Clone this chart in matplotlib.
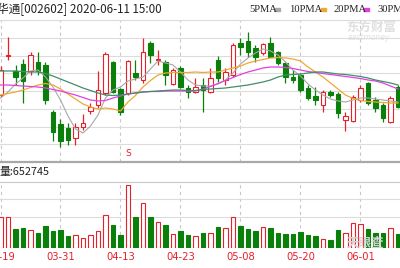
import numpy as np
import matplotlib.pyplot as plt

# trading days shown (last one is cut at the right edge)
dates = ['03-19', '03-20', '03-23', '03-24', '03-25', '03-26', '03-27', '03-30', '03-31', '04-01',
         '04-02', '04-03', '04-07', '04-08', '04-09', '04-10', '04-13', '04-14', '04-15', '04-16',
         '04-17', '04-20', '04-21', '04-22', '04-23', '04-24', '04-27', '04-28', '04-29', '04-30',
         '05-06', '05-07', '05-08', '05-11', '05-12', '05-13', '05-14', '05-15', '05-18', '05-19',
         '05-20', '05-21', '05-22', '05-25', '05-26', '05-27', '05-28', '05-29', '06-01', '06-02',
         '06-03', '06-04', '06-05', '06-08']
tick_dates = ['03-19', '03-31', '04-13', '04-23', '05-08', '05-20', '06-01']

open_ = [8.67, 9.06, 8.91, 8.98, 8.91, 9.00, 8.97, 8.50, 8.38, 8.34,
         8.24, 8.35, 8.51, 8.57, 8.69, 9.00, 8.73, 8.69, 8.89, 8.82,
         9.19, 9.015, 9.00, 8.78, 8.94, 8.74, 8.70, 8.77, 8.70, 9.02,
         8.82, 8.87, 9.19, 9.21, 9.14, 9.09, 9.19, 9.10, 8.99, 8.85,
         8.87, 8.74, 8.66, 8.57, 8.70, 8.68, 8.42, 8.41, 8.62, 8.79,
         8.62, 8.57, 8.40, 8.75]
high = [8.96, 9.25, 8.97, 9.03, 9.10, 9.10, 9.00, 8.52, 8.43, 8.39,
        8.39, 8.48, 8.59, 8.91, 9.10, 9.01, 8.74, 9.02, 9.02, 9.24,
        9.21, 9.12, 9.02, 8.94, 8.96, 8.77, 8.84, 8.84, 8.94, 9.06,
        8.94, 9.19, 9.24, 9.30, 9.17, 9.19, 9.25, 9.11, 9.00, 8.92,
        8.89, 8.77, 8.75, 8.72, 8.72, 8.70, 8.50, 8.67, 8.77, 8.80,
        8.65, 8.59, 8.66, 8.77]
low = [8.65, 9.02, 8.77, 8.59, 8.87, 8.87, 8.58, 8.21, 8.15, 8.17,
       8.17, 8.32, 8.48, 8.54, 8.67, 8.69, 8.47, 8.67, 8.82, 8.79,
       8.99, 8.97, 8.77, 8.77, 8.74, 8.64, 8.69, 8.50, 8.69, 8.80,
       8.77, 8.85, 9.07, 9.05, 9.00, 9.07, 9.05, 8.97, 8.79, 8.79,
       8.70, 8.62, 8.57, 8.50, 8.65, 8.44, 8.31, 8.40, 8.60, 8.57,
       8.50, 8.40, 8.39, 8.54]
close = [8.92, 9.07, 8.85, 8.81, 9.07, 8.91, 8.62, 8.30, 8.21, 8.22,
         8.35, 8.39, 8.55, 8.72, 9.08, 8.70, 8.50, 9.01, 8.85, 9.10,
         9.07, 9.025, 8.87, 8.92, 8.75, 8.70, 8.75, 8.72, 8.84, 8.84,
         8.90, 9.17, 9.15, 9.10, 9.05, 9.18, 9.05, 8.99, 8.85, 8.82,
         8.72, 8.64, 8.62, 8.70, 8.67, 8.49, 8.46, 8.65, 8.74, 8.59,
         8.54, 8.44, 8.64, 8.55]

# moving averages
ma5 = [8.64, 8.70, 8.78, 8.84, 8.91, 8.92, 8.85, 8.75, 8.62, 8.46,
       8.33, 8.29, 8.36, 8.47, 8.64, 8.72, 8.75, 8.81, 8.83, 8.85,
       8.93, 9.01, 8.99, 8.97, 8.90, 8.82, 8.77, 8.76, 8.76, 8.78,
       8.82, 8.89, 8.98, 9.04, 9.09, 9.13, 9.11, 9.07, 9.00, 8.92,
       8.86, 8.78, 8.72, 8.67, 8.63, 8.61, 8.60, 8.62, 8.64, 8.64,
       8.63, 8.62, 8.61, 8.60]
ma10 = [8.67, 8.685, 8.70, 8.72, 8.745, 8.77, 8.785, 8.77, 8.73, 8.68,
        8.63, 8.58, 8.55, 8.53, 8.54, 8.53, 8.51, 8.60, 8.665, 8.75,
        8.815, 8.87, 8.89, 8.895, 8.895, 8.895, 8.90, 8.895, 8.90, 8.90,
        8.92, 8.94, 8.96, 8.99, 9.01, 9.025, 9.04, 9.045, 9.04, 9.03,
        9.01, 8.95, 8.90, 8.85, 8.79, 8.73, 8.67, 8.635, 8.615, 8.605,
        8.60, 8.595, 8.59, 8.59]
ma20 = [8.77, 8.77, 8.765, 8.76, 8.755, 8.75, 8.74, 8.725, 8.71, 8.69,
        8.67, 8.645, 8.62, 8.61, 8.615, 8.64, 8.66, 8.68, 8.69, 8.70,
        8.705, 8.705, 8.71, 8.71, 8.71, 8.71, 8.71, 8.73, 8.755, 8.785,
        8.815, 8.845, 8.875, 8.90, 8.92, 8.94, 8.95, 8.95, 8.945, 8.935,
        8.92, 8.905, 8.895, 8.885, 8.875, 8.865, 8.855, 8.845, 8.835, 8.82,
        8.81, 8.79, 8.76, 8.73]
ma30 = [8.91, 8.91, 8.91, 8.905, 8.90, 8.90, 8.885, 8.86, 8.83, 8.80,
        8.77, 8.74, 8.715, 8.69, 8.67, 8.665, 8.67, 8.68, 8.69, 8.70,
        8.705, 8.71, 8.715, 8.72, 8.72, 8.715, 8.715, 8.725, 8.73, 8.735,
        8.74, 8.75, 8.76, 8.77, 8.785, 8.80, 8.82, 8.85, 8.87, 8.875,
        8.88, 8.89, 8.90, 8.90, 8.89, 8.88, 8.875, 8.865, 8.855, 8.84,
        8.82, 8.805, 8.79, 8.77]

volume = [755000, 755000, 462000, 487000, 437000, 370000, 537000, 412000, 437000, 287000,
          312000, 237000, 305000, 412000, 812000, 562000, 312000, 1562000, 755000, 1120000,
          755000, 630000, 555000, 337000, 420000, 312000, 287000, 355000, 370000, 520000,
          480000, 770000, 537000, 462000, 412000, 505000, 480000, 370000, 337000, 337000,
          387000, 312000, 287000, 205000, 187000, 437000, 370000, 605000, 587000, 455000,
          370000, 370000, 480000, 337000]
last_volume = 652745

RED = '#e8202a'
GREEN = '#0a800a'

idx = np.arange(len(dates))
o = np.array(open_)
c = np.array(close)
up = c >= o
tick_idx = [dates.index(d) for d in tick_dates]

fig = plt.figure(figsize=(4, 2.68), dpi=100)
W, H = 400, 268
ax = fig.add_axes([0, 106 / H, 1, 142 / H])
axv = fig.add_axes([0, 20.5 / H, 1, 65.5 / H])

# candles
cols = np.where(up, RED, GREEN)
ax.vlines(idx, low, high, colors=cols, lw=0.9, zorder=2)
body = np.maximum(np.abs(c - o), 0.006)
ax.bar(idx, body, bottom=np.minimum(o, c), width=0.6,
       color=np.where(up, 'white', GREEN), edgecolor=cols, lw=0.8, zorder=3)

# moving averages
ax.plot(idx, ma5, color='#a8a8a8', lw=0.8, zorder=4)
ax.plot(idx, ma10, color='#f0a830', lw=0.9, zorder=4)
ax.plot(idx, ma20, color='#e040e0', lw=0.9, zorder=4)
ax.plot(idx, ma30, color='#3f8f6a', lw=0.9, zorder=4)

ax.text(dates.index('04-14'), 8.085, 'S', color=RED, fontsize=6.5,
        ha='center', va='center', zorder=5)

xlim = (-0.067, 53.27)
ax.set_xlim(xlim)
ax.set_ylim(8.0, 9.42)
ax.set_yticks(np.linspace(8.0, 9.42, 9))
ax.set_xticks(tick_idx)
ax.grid(axis='y', color='#dcdcdc', lw=0.8)
ax.grid(axis='x', color='#c8c8c8', lw=0.8, ls=(0, (3, 3)))
ax.tick_params(length=0, labelbottom=False, labelleft=False)
for s in ['left', 'right']:
    ax.spines[s].set_visible(False)
ax.spines['top'].set_color('#dcdcdc')
ax.spines['bottom'].set_color('#a8a8a8')
ax.spines['bottom'].set_linewidth(1.6)

# volume
axv.bar(idx, volume, width=0.6, color=np.where(up, 'white', GREEN),
        edgecolor=cols, lw=0.8, zorder=3)
axv.set_xlim(xlim)
axv.set_ylim(0, 1637500)
axv.set_yticks([770000, 1212500])
axv.set_xticks(tick_idx)
axv.set_xticklabels(tick_dates, color=RED, fontsize=7.2)
axv.grid(axis='y', color='#dcdcdc', lw=0.8)
axv.grid(axis='x', color='#c8c8c8', lw=0.8, ls=(0, (3, 3)))
axv.tick_params(length=0, labelleft=False, pad=3)
for s in ['left', 'right', 'bottom']:
    axv.spines[s].set_visible(False)
axv.spines['top'].set_color('#c8c8c8')

cjk = ['Noto Sans CJK SC', 'DejaVu Sans']
fig.text(-3 / W, 1 - 9 / H, '华通[002602] 2020-06-11 15:00', fontsize=8.4,
         family=cjk, color='#222222', va='center', ha='left')
fig.text(-1 / W, 1 - 172 / H, '量:' + str(last_volume), fontsize=7.8,
         family=cjk, color='#222222', va='center', ha='left')

# legend
leg = [('5PMA', 249), ('10PMA', 289), ('20PMA', 333), ('30PMA', 377)]
for name, x0 in leg:
    fig.text(x0 / W, 1 - 9 / H, name, fontsize=7.6, family='Liberation Serif',
             color='#222222', va='center', ha='left')
for x, col in [(275, '#a8a8a8'), (321, '#f0a830'), (364, '#e040e0')]:
    fig.patches.append(plt.Rectangle((x / W, 1 - 10.5 / H), 5 / W, 3 / H,
                                     transform=fig.transFigure, color=col))

# watermarks
fig.text(346 / W, 1 - 27 / H, '东方财富', fontsize=9, family=cjk, color='#e0e0e0',
         va='center', ha='left', fontweight='bold')
fig.text(348 / W, 1 - 37 / H, 'eastmoney', fontsize=5.5, color='#e0e0e0',
         va='center', ha='left', style='italic')
fig.text(365 / W, 1 - 243 / H, '天眼查', fontsize=9, family=cjk, color='#d4d4d4',
         va='center', ha='center', fontweight='bold')

fig.savefig('out.png', dpi=100)
